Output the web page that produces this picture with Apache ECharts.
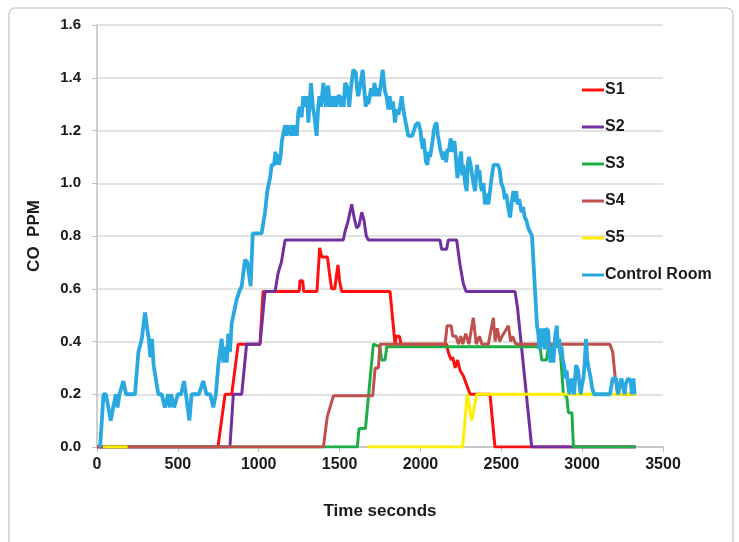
<!DOCTYPE html>
<html>
<head>
<meta charset="utf-8">
<script src="https://cdn.jsdelivr.net/npm/echarts@6/dist/echarts.min.js"></script>
<style>html,body{margin:0;padding:0;background:#fff;}#c{width:739px;height:542px;}</style>
</head>
<body>
<div id="c"></div>
<script>
const seriesNames = ['S1', 'S2', 'S3', 'S4', 'S5', 'Control Room'];
const xTicks = [0, 500, 1000, 1500, 2000, 2500, 3000, 3500];
const yTicks = [0, 0.2, 0.4, 0.6, 0.8, 1.0, 1.2, 1.4, 1.6];

const s1 = [[0,0],[748,0],[792,0.2],[833,0.2],[873,0.39],[1008,0.39],[1027,0.59],[1250,0.59],[1255,0.63],[1272,0.63],[1278,0.59],[1360,0.59],[1377,0.755],[1390,0.72],[1425,0.72],[1437,0.66],[1451,0.6],[1470,0.6],[1490,0.69],[1500,0.63],[1513,0.59],[1812,0.59],[1843,0.39],[1850,0.42],[1870,0.42],[1880,0.39],[2162,0.39],[2172,0.36],[2190,0.33],[2200,0.34],[2215,0.3],[2230,0.33],[2245,0.29],[2265,0.27],[2307,0.2],[2430,0.2],[2461,0],[3330,0]];

const s2 = [[0,0],[822,0],[843,0.2],[895,0.2],[925,0.39],[1008,0.39],[1039,0.59],[1101,0.59],[1120,0.66],[1140,0.7],[1163,0.785],[1523,0.785],[1535,0.82],[1550,0.85],[1575,0.92],[1590,0.87],[1606,0.83],[1620,0.84],[1637,0.89],[1651,0.86],[1665,0.8],[1678,0.785],[2121,0.785],[2131,0.75],[2162,0.75],[2172,0.785],[2224,0.785],[2245,0.69],[2265,0.62],[2282,0.59],[2585,0.59],[2600,0.53],[2625,0.38],[2688,0],[3330,0]];

const s3 = [[0,0],[1610,0],[1620,0.07],[1660,0.07],[1709,0.39],[1750,0.38],[1760,0.33],[1781,0.33],[1792,0.38],[2740,0.38],[2750,0.33],[2780,0.33],[2790,0.38],[2863,0.38],[2884,0.2],[2905,0.19],[2915,0.13],[2937,0.13],[2946,0],[3330,0]];

const s4 = [[0,0],[1400,0],[1424,0.115],[1462,0.194],[1705,0.194],[1720,0.3],[1740,0.3],[1750,0.39],[2152,0.39],[2165,0.46],[2190,0.46],[2200,0.42],[2220,0.42],[2235,0.39],[2250,0.42],[2262,0.39],[2280,0.43],[2300,0.39],[2327,0.49],[2345,0.39],[2365,0.42],[2380,0.39],[2420,0.39],[2451,0.49],[2462,0.4],[2475,0.45],[2490,0.4],[2505,0.42],[2544,0.46],[2558,0.4],[2570,0.42],[2590,0.39],[3172,0.39],[3189,0.36],[3205,0.26],[3220,0.2],[3330,0.2]];

const s5 = [[37,0],[190,0],[195,null],[1672,0],[2261,0],[2290,0.2],[2317,0.1],[2348,0.2],[3330,0.2]];

const controlRoom = [[19,0],[30,0.1],[40,0.2],[55,0.2],[70,0.15],[85,0.1],[100,0.15],[117,0.2],[127,0.15],[139,0.2],[163,0.25],[180,0.2],[235,0.2],[256,0.36],[277,0.41],[297,0.51],[310,0.45],[320,0.41],[330,0.34],[340,0.41],[350,0.31],[379,0.2],[400,0.2],[420,0.15],[440,0.2],[450,0.15],[458,0.2],[477,0.15],[500,0.2],[520,0.2],[538,0.25],[550,0.2],[560,0.2],[571,0.1],[585,0.2],[610,0.2],[630,0.2],[657,0.25],[677,0.2],[700,0.2],[719,0.15],[735,0.2],[750,0.31],[771,0.41],[781,0.32],[792,0.38],[802,0.32],[812,0.43],[822,0.36],[833,0.47],[843,0.47],[864,0.56],[880,0.59],[895,0.61],[915,0.71],[930,0.7],[950,0.61],[963,0.81],[1018,0.81],[1039,0.89],[1053,0.97],[1070,1.02],[1080,1.07],[1095,1.07],[1103,1.12],[1111,1.07],[1118,1.11],[1125,1.07],[1135,1.1],[1143,1.16],[1163,1.22],[1170,1.18],[1178,1.22],[1190,1.22],[1198,1.18],[1206,1.22],[1214,1.18],[1226,1.22],[1235,1.18],[1245,1.27],[1255,1.29],[1265,1.25],[1276,1.33],[1290,1.29],[1300,1.33],[1307,1.23],[1315,1.3],[1323,1.38],[1335,1.29],[1345,1.25],[1358,1.18],[1368,1.29],[1375,1.33],[1385,1.29],[1400,1.38],[1408,1.33],[1415,1.29],[1422,1.35],[1430,1.37],[1440,1.29],[1448,1.33],[1457,1.29],[1470,1.33],[1480,1.29],[1490,1.33],[1503,1.33],[1510,1.29],[1517,1.33],[1525,1.29],[1534,1.38],[1545,1.37],[1553,1.33],[1560,1.29],[1570,1.36],[1585,1.43],[1600,1.42],[1608,1.36],[1615,1.33],[1625,1.36],[1643,1.43],[1652,1.36],[1662,1.29],[1670,1.33],[1678,1.3],[1695,1.36],[1705,1.33],[1716,1.38],[1726,1.33],[1735,1.36],[1745,1.33],[1767,1.43],[1780,1.35],[1790,1.33],[1802,1.28],[1810,1.33],[1820,1.28],[1830,1.31],[1843,1.23],[1852,1.28],[1864,1.26],[1874,1.29],[1884,1.33],[1892,1.29],[1900,1.26],[1912,1.22],[1925,1.18],[1950,1.18],[1970,1.22],[1987,1.23],[2000,1.2],[2007,1.16],[2014,1.13],[2020,1.17],[2028,1.12],[2035,1.08],[2043,1.07],[2052,1.12],[2060,1.1],[2075,1.16],[2083,1.2],[2090,1.22],[2100,1.23],[2108,1.18],[2115,1.16],[2122,1.13],[2131,1.13],[2140,1.09],[2150,1.12],[2159,1.08],[2167,1.13],[2175,1.12],[2187,1.17],[2195,1.13],[2200,1.12],[2210,1.16],[2215,1.13],[2222,1.07],[2229,1.02],[2237,1.07],[2245,1.07],[2252,1.12],[2258,1.03],[2265,1.07],[2276,1.0],[2286,0.97],[2293,1.07],[2300,1.1],[2310,1.07],[2318,1.07],[2328,1.0],[2338,0.97],[2345,1.03],[2350,1.07],[2358,1.02],[2365,1.05],[2373,0.99],[2381,0.97],[2390,1.0],[2399,0.92],[2410,0.96],[2420,0.92],[2430,0.97],[2440,1.02],[2452,1.07],[2467,1.07],[2480,1.07],[2490,1.05],[2500,1.0],[2513,0.98],[2522,0.94],[2530,0.96],[2540,0.92],[2554,0.87],[2565,0.93],[2575,0.97],[2585,0.93],[2592,0.97],[2600,0.92],[2610,0.94],[2626,0.89],[2635,0.91],[2645,0.87],[2655,0.86],[2667,0.83],[2690,0.8],[2708,0.6],[2721,0.46],[2729,0.43],[2736,0.37],[2743,0.45],[2750,0.38],[2757,0.45],[2768,0.37],[2777,0.45],[2790,0.44],[2798,0.35],[2805,0.32],[2815,0.38],[2822,0.32],[2833,0.42],[2843,0.46],[2850,0.38],[2858,0.41],[2865,0.35],[2873,0.38],[2880,0.33],[2888,0.31],[2896,0.26],[2904,0.29],[2912,0.24],[2921,0.2],[2935,0.26],[2950,0.2],[2962,0.31],[2975,0.29],[2983,0.24],[2991,0.2],[3000,0.24],[3008,0.26],[3016,0.32],[3024,0.41],[3032,0.33],[3040,0.3],[3053,0.26],[3063,0.22],[3074,0.2],[3172,0.2],[3189,0.26],[3210,0.26],[3222,0.2],[3243,0.26],[3262,0.2],[3270,0.24],[3284,0.26],[3300,0.25],[3308,0.2],[3317,0.26],[3325,0.2]];

const colors = ['#ff1010', '#7030a0', '#1fae45', '#c0504d', '#ffee00', '#2aa9e0'];
const allData = [s1, s2, s3, s4, s5, controlRoom];

const FONT = 'Liberation Sans, Arial, sans-serif';
const chart = echarts.init(document.getElementById('c'), null, {renderer: 'canvas'});
chart.setOption({
  animation: false,
  backgroundColor: '#ffffff',
  color: colors,
  graphic: [{
    type: 'rect', z: -10,
    shape: {x: 9, y: 8, width: 724, height: 560, r: 6},
    style: {fill: 'none', stroke: '#d0d0d0', lineWidth: 1.5}
  }],
  grid: {left: 97, right: 76, top: 25, bottom: 95, containLabel: false},
  legend: {
    orient: 'vertical', left: 577, top: 77, itemGap: 21,
    itemWidth: 22, itemHeight: 3, icon: 'rect',
    textStyle: {fontFamily: FONT, fontWeight: 'bold', fontSize: 16, color: '#1a1a1a', padding: [0,0,0,-4]},
    data: seriesNames
  },
  xAxis: {
    type: 'value', min: xTicks[0], max: xTicks[xTicks.length - 1], interval: 500,
    name: 'Time seconds', nameLocation: 'middle', nameGap: 56,
    nameTextStyle: {fontFamily: FONT, fontWeight: 'bold', fontSize: 17, color: '#1a1a1a'},
    axisLine: {show: true, lineStyle: {color: '#bfbfbf', width: 1.5}},
    axisTick: {show: true, length: 5, lineStyle: {color: '#bfbfbf'}},
    axisLabel: {margin: 10, fontFamily: FONT, fontWeight: 'bold', fontSize: 16, color: '#1a1a1a',
      formatter: v => String(v)},
    splitLine: {show: false}
  },
  yAxis: {
    type: 'value', min: yTicks[0], max: yTicks[yTicks.length - 1], interval: 0.2,
    name: 'CO  PPM', nameLocation: 'middle', nameGap: 54, nameRotate: 90,
    nameTextStyle: {fontFamily: FONT, fontWeight: 'bold', fontSize: 17, color: '#1a1a1a'},
    axisLine: {show: true, lineStyle: {color: '#bfbfbf', width: 1.5}},
    axisTick: {show: true, length: 5, lineStyle: {color: '#bfbfbf'}},
    axisLabel: {margin: 16, fontFamily: FONT, fontWeight: 'bold', fontSize: 15, color: '#1a1a1a',
      formatter: v => v.toFixed(1)},
    splitLine: {show: true, lineStyle: {color: '#d9d9d9', width: 1.5}}
  },
  series: seriesNames.map((n, i) => ({
    name: n, type: 'line', data: allData[i], showSymbol: false, symbol: 'none',
    connectNulls: false,
    lineStyle: {width: i === 5 ? 3.8 : 3, color: colors[i]},
    itemStyle: {color: colors[i]}
  }))
});
</script>
</body>
</html>
